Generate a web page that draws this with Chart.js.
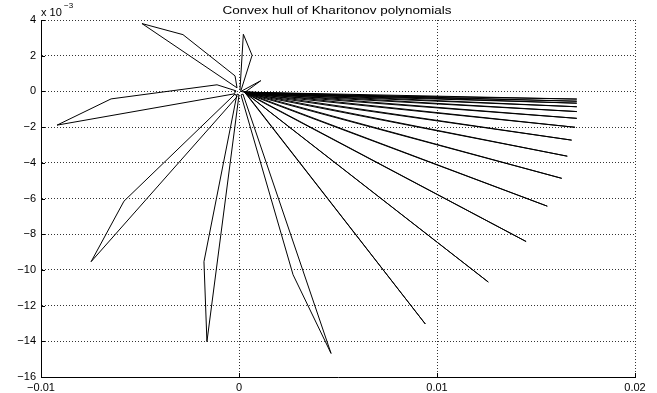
<!DOCTYPE html>
<html>
<head>
<meta charset="utf-8">
<script src="https://cdn.jsdelivr.net/npm/chart.js@4/dist/chart.umd.min.js"></script>
<style>
  html, body { margin: 0; padding: 0; background: #fff; }
  #wrap { width: 657px; height: 393px; }
</style>
</head>
<body>
<div id="wrap"><canvas id="hull" width="657" height="393"></canvas></div>
<script>
// axis ticks (y in units of 1e-3)
const xTicks = [-0.01, 0, 0.01, 0.02];
const yTicks = [-16, -14, -12, -10, -8, -6, -4, -2, 0, 2, 4];

// value sets, [x, y*1e3], each closed back to its first point
const hullUpLeft = [[-0.0001, 0.2], [-0.0049, 3.8], [-0.00283, 3.18], [-0.0002, 0.87], [-0.0001, 0.2]];
const hullUp = [[0.00005, 0.1], [0.00022, 3.2], [0.00066, 2.02], [0.0001, 0.05], [0.00005, 0.1]];
const hullSmall = [[0.0001, 0.0], [0.0011, 0.6], [0.0003, -0.05], [0.0001, 0.0]];
const hullLeft = [[-0.00919, -1.89], [-0.00646, -0.42], [-0.00111, 0.37], [-0.00015, 0.03], [-0.00025, -0.14], [-0.00919, -1.89]];
const hullLowLeft = [[-0.00747, -9.54], [-0.00581, -6.15], [-0.0002, -0.15], [-0.0001, -0.3], [-0.00747, -9.54]];
const hullDown = [[-0.0001, -0.15], [-0.00177, -9.54], [-0.00162, -14.02], [0.0, -0.2], [-0.0001, -0.15]];
const hullDownRight = [[0.0001, -0.2], [0.00273, -10.27], [0.00465, -14.68], [0.0002, -0.15], [0.0001, -0.2]];

// thin sets fanning out to the right: outer tip of each
const fanX = [0.00941, 0.01259, 0.0145, 0.01557, 0.0163, 0.01658, 0.0168, 0.01697, 0.01706, 0.01706, 0.01706, 0.01706, 0.01706, 0.01706];
const fanY = [-13.03, -10.68, -8.41, -6.43, -4.87, -3.63, -2.73, -2.01, -1.51, -1.13, -0.86, -0.66, -0.55, -0.43];
const fanInner = [[0.00028, -0.04], [0.00036, -0.12]];

const hulls = [hullUpLeft, hullUp, hullSmall, hullLeft, hullLowLeft, hullDown, hullDownRight];
fanX.forEach((x, i) => {
  hulls.push([fanInner[0], [x, fanY[i]], fanInner[1], fanInner[0]]);
});

const datasets = hulls.map(h => ({
  data: h.map(p => ({ x: p[0], y: p[1] })),
  showLine: true,
  borderColor: '#000',
  borderWidth: 1,
  pointRadius: 0,
  fill: false,
  tension: 0
}));

const fontFam = '"Liberation Sans", Arial, Helvetica, sans-serif';

function fmt(v) {
  if (v === 0) return '0';
  const s = Math.abs(v) < 1 ? Math.abs(v).toFixed(2) : String(Math.abs(v));
  return (v < 0 ? '\u2212' : '') + s;
}

// title, exponent label and inward tick marks (matlab look)
const overlay = {
  id: 'overlay',
  afterDraw(chart) {
    const ctx = chart.ctx;
    const a = chart.chartArea;
    ctx.save();
    ctx.strokeStyle = '#000';
    ctx.lineWidth = 1;
    ctx.beginPath();
    xTicks.forEach(v => {
      const px = Math.round(chart.scales.x.getPixelForValue(v)) + 0.5;
      ctx.moveTo(px, a.bottom);
      ctx.lineTo(px, a.bottom - 4);
    });
    yTicks.forEach(v => {
      const py = Math.round(chart.scales.y.getPixelForValue(v)) + 0.5;
      ctx.moveTo(a.left, py);
      ctx.lineTo(a.left + 4, py);
    });
    ctx.stroke();

    ctx.fillStyle = '#000';
    ctx.textBaseline = 'alphabetic';
    // title
    ctx.save();
    ctx.font = '10px ' + fontFam;
    ctx.textAlign = 'center';
    ctx.translate(337, 14);
    ctx.scale(1.35, 1);
    ctx.fillText('Convex hull of Kharitonov polynomials', 0, 0);
    ctx.restore();
    // exponent
    ctx.font = '11px ' + fontFam;
    ctx.textAlign = 'left';
    ctx.fillText('x 10', 41, 16);
    ctx.font = '8px ' + fontFam;
    ctx.fillText('\u22123', 64, 8);
    ctx.restore();
  }
};

new Chart(document.getElementById('hull'), {
  type: 'scatter',
  data: { datasets },
  options: {
    responsive: false,
    animation: false,
    events: [],
    layout: { padding: { left: 0, right: 22, top: 20, bottom: 0 } },
    plugins: {
      legend: { display: false },
      tooltip: { enabled: false },
      title: { display: false }
    },
    scales: {
      x: {
        type: 'linear',
        min: -0.01,
        max: 0.02,
        afterBuildTicks: s => { s.ticks = xTicks.map(v => ({ value: v })); },
        afterFit: s => { s.height = 16; },
        ticks: {
          color: '#000',
          padding: 4,
          maxRotation: 0,
          font: { family: fontFam, size: 11 },
          callback: v => fmt(v)
        },
        grid: { color: '#333', drawTicks: false, lineWidth: 1 },
        border: { display: true, color: '#000', width: 1, dash: [1, 2] }
      },
      y: {
        type: 'linear',
        min: -16,
        max: 4,
        afterBuildTicks: s => { s.ticks = yTicks.map(v => ({ value: v })); },
        afterFit: s => { s.width = 41; },
        ticks: {
          color: '#000',
          padding: 5,
          font: { family: fontFam, size: 11 },
          callback: v => fmt(v)
        },
        grid: { color: '#333', drawTicks: false, lineWidth: 1 },
        border: { display: true, color: '#000', width: 1, dash: [1, 2] }
      }
    }
  },
  plugins: [overlay]
});
</script>
</body>
</html>
